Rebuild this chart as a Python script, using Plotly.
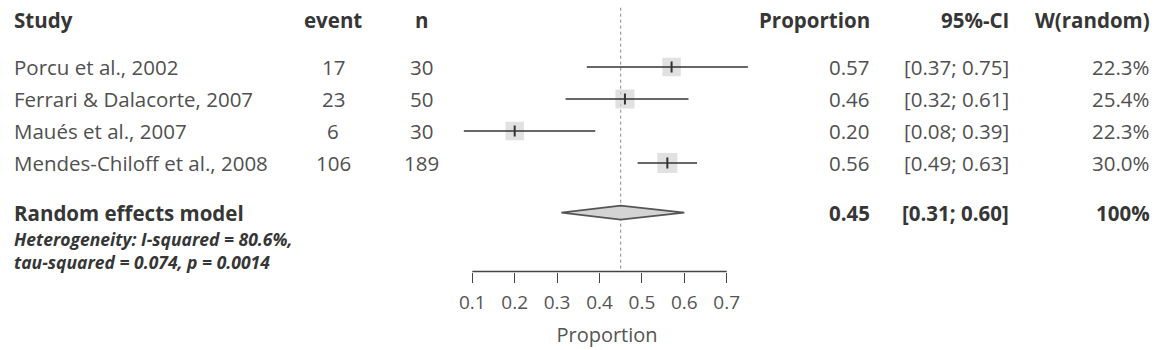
import plotly.graph_objects as go

# ---- data ----
studies = ["Porcu et al., 2002", "Ferrari & Dalacorte, 2007", "Maués et al., 2007", "Mendes-Chiloff et al., 2008"]
events = [17, 23, 6, 106]
totals = [30, 50, 30, 189]
props = [0.57, 0.46, 0.20, 0.56]
ci_low = [0.37, 0.32, 0.08, 0.49]
ci_high = [0.75, 0.61, 0.39, 0.63]
weights = [22.3, 25.4, 22.3, 30.0]
pooled = 0.45
pooled_low = 0.31
pooled_high = 0.60
het_lines = ["Heterogeneity: I-squared = 80.6%,", "tau-squared = 0.074, p = 0.0014"]
headers = ["Study", "event", "n", "Proportion", "95%-CI", "W(random)"]
tick_vals = [0.1, 0.2, 0.3, 0.4, 0.5, 0.6, 0.7]

# ---- layout helpers ----
W, H = 1167, 350
FONT = "Open Sans"
TXT = "#505050"
BOLD = "#363636"
FS = 20.5
row_y = [1, 2, 3, 4]
sum_y = 5.55
head_y = -0.47
het_y = [6.37, 7.1]

def px(xp):
    return xp / W

scale = (726.7 - 472.3) / 0.6  # px per unit
x_left_px, x_right_px = 420, 794
x_range = [0.1 - (472.3 - x_left_px) / scale, 0.7 + (x_right_px - 726.7) / scale]
x_domain = [px(x_left_px), px(x_right_px)]

y_top_px, y_bot_px = 5, 271.5
y_dom = [(H - y_bot_px) / H, (H - y_top_px) / H]
y_range = [1 + (y_bot_px - 67) / 32.0, 1 - (67 - y_top_px) / 32.0]

fig = go.Figure()

# squares
fig.add_trace(go.Scatter(
    x=props, y=row_y, mode="markers",
    marker=dict(symbol="square", size=[14 + 0.2 * w for w in weights], color="#d4d4d4", line=dict(width=0)),
    hoverinfo="skip", showlegend=False))

# CI lines
for lo, hi, y in zip(ci_low, ci_high, row_y):
    fig.add_trace(go.Scatter(x=[lo, hi], y=[y, y], mode="lines",
                             line=dict(color="#333333", width=1.5),
                             hoverinfo="skip", showlegend=False))

# estimate ticks
fig.add_trace(go.Scatter(
    x=props, y=row_y, mode="markers",
    marker=dict(symbol="line-ns", size=8, line=dict(color="#333333", width=2)),
    hoverinfo="skip", showlegend=False))

# diamond
dh = 0.22
fig.add_trace(go.Scatter(
    x=[pooled_low, pooled, pooled_high, pooled, pooled_low],
    y=[sum_y, sum_y - dh, sum_y, sum_y + dh, sum_y],
    mode="lines", fill="toself", fillcolor="#d4d4d4",
    line=dict(color="#555555", width=1.8),
    hoverinfo="skip", showlegend=False))

shapes = [
    dict(type="line", xref="x", yref="paper", x0=pooled, x1=pooled, y0=y_dom[0] + 0.008, y1=y_dom[1],
         line=dict(color="#888888", width=1, dash="dot"), layer="below"),
    dict(type="line", xref="x", yref="paper", x0=tick_vals[0], x1=tick_vals[-1], y0=y_dom[0], y1=y_dom[0],
         line=dict(color="#444444", width=1.3)),
]

ann = []
PAD = 3
def add(text, x, y, anchor, bold=False, italic=False, size=FS, color=None):
    t = text
    if bold:
        t = "<b>" + t + "</b>"
    if italic:
        t = "<i>" + t + "</i>"
    xx = x - PAD if anchor == "left" else (x + PAD if anchor == "right" else x)
    ann.append(dict(text=t, x=px(xx), y=y, xref="paper", yref="y", xanchor=anchor, yanchor="middle",
                    showarrow=False, font=dict(family=FONT, size=size, color=color or (BOLD if bold else TXT))))

col_x = [(15, "left"), (333, "center"), (421, "center"), (869, "right"), (1008, "right"), (1149, "right")]
for h, (x, a) in zip(headers, col_x):
    add(h, x, head_y, a, bold=True)

for i, y in enumerate(row_y):
    add(studies[i], 15, y, "left")
    add(str(events[i]), 333, y, "center")
    add(str(totals[i]), 421, y, "center")
    add(f"{props[i]:.2f}", 869, y, "right")
    add(f"[{ci_low[i]:.2f}; {ci_high[i]:.2f}]", 1008, y, "right")
    add(f"{weights[i]:.1f}%", 1149, y, "right")

add("Random effects model", 15, sum_y, "left", bold=True)
add(f"{pooled:.2f}", 869, sum_y, "right", bold=True)
add(f"[{pooled_low:.2f}; {pooled_high:.2f}]", 1008, sum_y, "right", bold=True)
add(f"{sum(weights):.0f}%", 1149, sum_y, "right", bold=True)
for t, y in zip(het_lines, het_y):
    add(t, 15, y, "left", bold=True, italic=True, size=17.5)

fig.update_layout(
    width=W, height=H, margin=dict(l=0, r=0, t=0, b=0),
    paper_bgcolor="white", plot_bgcolor="white",
    shapes=shapes, annotations=ann,
    xaxis=dict(domain=x_domain, range=x_range, tickvals=tick_vals, ticktext=[f"{v:.1f}" for v in tick_vals],
               ticks="outside", ticklen=10, tickwidth=1.3, tickcolor="#444444",
               ticklabelstandoff=4,
               showline=False, showgrid=False, zeroline=False,
               tickfont=dict(family=FONT, size=19, color="#555555"),
               title=dict(text="Proportion", font=dict(family=FONT, size=20, color="#555555"), standoff=13),
               anchor="y"),
    yaxis=dict(domain=y_dom, range=y_range, visible=False, showgrid=False, zeroline=False),
)

fig.write_html("out.html")
